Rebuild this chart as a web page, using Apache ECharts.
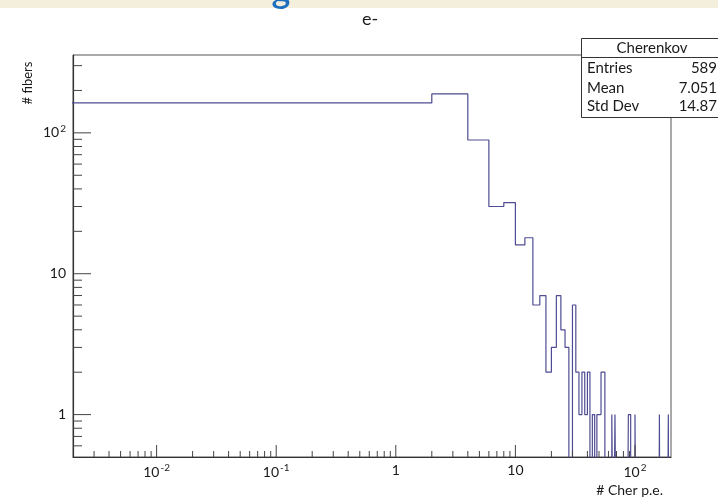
<!DOCTYPE html>
<html><head><meta charset="utf-8">
<script src="https://cdn.jsdelivr.net/npm/echarts@6/dist/echarts.min.js"></script>
<style>html,body{margin:0;padding:0;background:#fff}#c{width:718px;height:502px}</style>
</head><body><div id="c"></div>
<script>
// ---- data ----
const binWidth = 2;           // histogram bins: [0,2), [2,4), ... up to 200
const cherCounts = [
  163,189,89,30,32,16,18,6,7,2,
  3,7,4,3,0,6,2,1,2,1,
  2,0,1,0,1,1,2,2,0,0,
  0,0,1,0,1,0,0,0,0,0,
  0,0,0,0,1,1,0,0,0,0,
  1,0,0,0,0,0,0,0,0,0,
  0,0,0,0,0,0,0,0,0,0,
  0,0,0,0,0,0,0,0,0,0,
  1,0,0,0,0,0,0,0,0,0,
  0,0,0,0,0,1,0,0,0,0
];
const xLabelValues = [0.01, 0.1, 1, 10, 100];
const xLabelTexts  = ['{b|10}{s|-2}', '{b|10}{s|-1}', '{b|1}', '{b|10}', '{b|10}{s|2}'];
const yLabelValues = [1, 10, 100];
const yLabelTexts  = ['{b|1}', '{b|10}', '{b|10}{s|2}'];
const titleText = 'e-';
const xTitle = '# Cher p.e.';
const yTitle = '# fibers';
const statTitle = 'Cherenkov';
const statNames = ['Entries', 'Mean', 'Std Dev'];
const statValues = ['589', '7.051', '14.87'];

// ---- axis ranges ----
const X_MIN = 0.002, X_MAX = 200, Y_MIN = 0.5, Y_MAX = 357;
const FLOOR = 0.05;   // zero-count bins drawn below the visible range

// histogram outline points built from bin edges and counts
const histPts = [];
cherCounts.forEach((c, i) => {
  const lo = i === 0 ? 1e-4 : i * binWidth;
  const hi = (i + 1) * binWidth;
  const v = c > 0 ? c : FLOOR;
  histPts.push([lo, v], [hi, v]);
});

// tick positions (decade structure of log axes)
function logTicks(min, max) {
  const out = [];
  for (let e = -4; e <= 3; e++) {
    for (let m = 1; m <= 9; m++) {
      const v = +(m * Math.pow(10, e)).toPrecision(6);
      if (v > min * 1.001 && v < max * 0.999) out.push([v, m === 1 ? 1 : 0]);
    }
  }
  return out;
}
const xTicks = logTicks(X_MIN, X_MAX);
const yTicks = logTicks(Y_MIN, Y_MAX);

function labelFor(values, texts, v) {
  for (let i = 0; i < values.length; i++) {
    if (Math.abs(Math.log10(v) - Math.log10(values[i])) < 1e-6) return texts[i];
  }
  return '';
}

const FONT = 'Lato, "Open Sans", sans-serif';
const TXT = '#1a1a1a';
const richLbl = {
  b: { fontSize: 14, fontFamily: FONT, color: TXT },
  s: { fontSize: 10, fontFamily: FONT, color: TXT, padding: [0, 0, 8, 1] }
};

const chart = echarts.init(document.getElementById('c'), null, { renderer: 'canvas' });
chart.setOption({
  animation: false,
  backgroundColor: '#fff',
  grid: { left: 73, top: 55, width: 598, height: 402, show: true,
          borderColor: '#555', borderWidth: 1, backgroundColor: 'transparent' },
  xAxis: {
    type: 'log', logBase: 10, min: X_MIN, max: X_MAX,
    axisLine: { show: true, lineStyle: { color: '#333', width: 1.2 } },
    axisTick: { show: false }, splitLine: { show: false }, minorTick: { show: false },
    axisLabel: { margin: 6, rich: richLbl, showMinLabel: false, showMaxLabel: false,
                 formatter: v => labelFor(xLabelValues, xLabelTexts, v) }
  },
  yAxis: {
    type: 'log', logBase: 10, min: Y_MIN, max: Y_MAX,
    axisLine: { show: true, lineStyle: { color: '#333', width: 1.2 } },
    axisTick: { show: false }, splitLine: { show: false }, minorTick: { show: false },
    axisLabel: { margin: 7, rich: richLbl, showMinLabel: false, showMaxLabel: false,
                 formatter: v => labelFor(yLabelValues, yLabelTexts, v) }
  },
  series: [
    {
      type: 'line', data: histPts, showSymbol: false, symbol: 'none', clip: true,
      lineStyle: { color: '#4e4c92', width: 1.2 }, z: 3
    },
    {
      type: 'custom', data: xTicks, clip: false, z: 4,
      renderItem: (params, api) => {
        const p = api.coord([api.value(0), Y_MIN]);
        const len = api.value(1) ? 12 : 6;
        return { type: 'line', shape: { x1: p[0], y1: p[1], x2: p[0], y2: p[1] - len },
                 style: { stroke: '#444', lineWidth: 1 } };
      }
    },
    {
      type: 'custom', data: yTicks.map(t => [X_MIN, t[0], t[1]]), clip: false, z: 4,
      renderItem: (params, api) => {
        const p = api.coord([X_MIN, api.value(1)]);
        const len = api.value(2) ? 18 : 9;
        return { type: 'line', shape: { x1: p[0], y1: p[1], x2: p[0] + len, y2: p[1] },
                 style: { stroke: '#444', lineWidth: 1 } };
      }
    }
  ],
  graphic: [
    { type: 'rect', shape: { x: 0, y: 0, width: 718, height: 8 }, style: { fill: '#f3efdc' }, z: 1 },
    { type: 'text', x: 281, y: 9, z: 2,
      style: { text: 'g', font: '600 36px ' + FONT, fill: '#1f6fc0', textAlign: 'center', textVerticalAlign: 'bottom' } },
    { type: 'text', x: 370, y: 19, z: 10,
      style: { text: titleText, font: '18px ' + FONT, fill: TXT, textAlign: 'center', textVerticalAlign: 'middle' } },
    { type: 'text', x: 28, y: 83, rotation: Math.PI / 2, z: 10,
      style: { text: yTitle, font: '13px ' + FONT, fill: TXT, textAlign: 'center', textVerticalAlign: 'middle' } },
    { type: 'text', x: 663, y: 490, z: 10,
      style: { text: xTitle, font: '14px ' + FONT, fill: TXT, textAlign: 'right', textVerticalAlign: 'middle' } },
    { type: 'group', z: 20, children: [
      { type: 'rect', shape: { x: 581.5, y: 38.5, width: 160, height: 79 },
        style: { fill: '#fff', stroke: '#333', lineWidth: 1 } },
      { type: 'line', shape: { x1: 581.5, y1: 57.5, x2: 718, y2: 57.5 }, style: { stroke: '#333', lineWidth: 1 } },
      { type: 'text', x: 652, y: 48, style: { text: statTitle, font: '15px ' + FONT, fill: TXT, textAlign: 'center', textVerticalAlign: 'middle' } },
      { type: 'text', x: 587, y: 68, style: { text: statNames[0], font: '15px ' + FONT, fill: TXT, textVerticalAlign: 'middle' } },
      { type: 'text', x: 587, y: 88, style: { text: statNames[1], font: '15px ' + FONT, fill: TXT, textVerticalAlign: 'middle' } },
      { type: 'text', x: 587, y: 106, style: { text: statNames[2], font: '15px ' + FONT, fill: TXT, textVerticalAlign: 'middle' } },
      { type: 'text', x: 717, y: 68, style: { text: statValues[0], font: '15px ' + FONT, fill: TXT, textAlign: 'right', textVerticalAlign: 'middle' } },
      { type: 'text', x: 717, y: 88, style: { text: statValues[1], font: '15px ' + FONT, fill: TXT, textAlign: 'right', textVerticalAlign: 'middle' } },
      { type: 'text', x: 717, y: 106, style: { text: statValues[2], font: '15px ' + FONT, fill: TXT, textAlign: 'right', textVerticalAlign: 'middle' } }
    ]}
  ]
});
</script></body></html>
